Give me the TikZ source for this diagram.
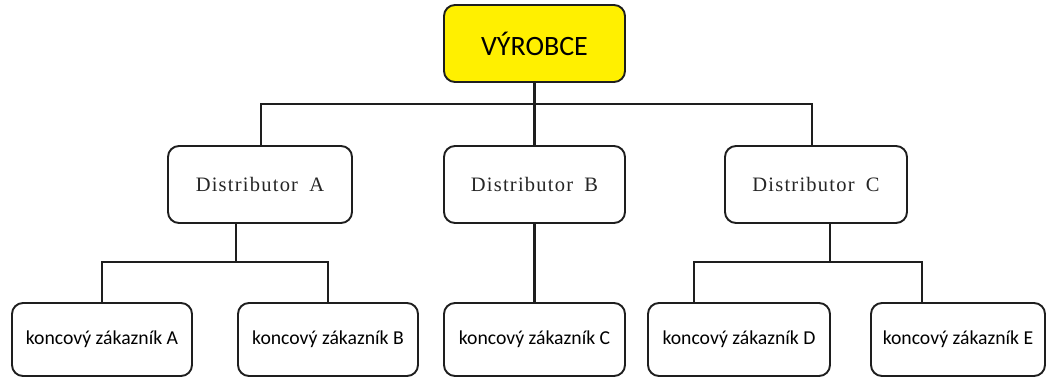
\documentclass[tikz,border=0pt]{standalone}
\usepackage{fontspec}
\setmainfont{Carlito}
\newfontfamily\distfont[LetterSpace=6]{Liberation Serif}
\definecolor{yellowbox}{RGB}{255,240,0}
\definecolor{linecol}{RGB}{30,30,30}
\begin{document}
\begin{tikzpicture}[x=1pt,y=-1pt,
  box/.style={draw=linecol, line width=1.9pt, rounded corners=11pt, fill=white, inner sep=0pt, text=black},
  topbox/.style={box, fill=yellowbox, minimum width=181pt, minimum height=77pt, font=\fontsize{28}{30}\selectfont},
  distbox/.style={box, minimum height=77pt, text=black!85, font=\distfont\fontsize{20.5}{22}\selectfont},
  custbox/.style={box, minimum height=73pt, font=\fontsize{19.7}{22}\selectfont},
  conn/.style={draw=linecol, line width=2.9pt}]
\useasboundingbox (0,0) rectangle (1046,378);
% nodes
\node[topbox] (vyr) at (534.5,43.5) {VÝROBCE};
\node[distbox, minimum width=184pt] (dA) at (260,184.5) {Distributor\hspace{5pt} A};
\node[distbox, minimum width=181pt] (dB) at (534.5,184.5) {Distributor\hspace{5pt} B};
\node[distbox, minimum width=182pt] (dC) at (816,184.5) {Distributor\hspace{5pt} C};
\node[custbox, minimum width=180pt] (kA) at (102,339.5) {koncový zákazník A};
\node[custbox, minimum width=180pt] (kB) at (328,339.5) {koncový zákazník B};
\node[custbox, minimum width=181pt] (kC) at (534.5,339.5) {koncový zákazník C};
\node[custbox, minimum width=182pt] (kD) at (739,339.5) {koncový zákazník D};
\node[custbox, minimum width=174pt] (kE) at (958,339.5) {koncový zákazník E};
% junctions
\coordinate (j1) at (534.5,104);
\coordinate (jA) at (236,262);
\coordinate (jC) at (830,262);
% connectors top level
\draw[conn] (vyr.south) -- (dB.north);
\draw[conn] (261,0 |- dA.north) -- (261,0 |- j1) -- (812,0 |- j1) -- (812,0 |- dC.north);
% distributor A
\draw[conn] (236,0 |- dA.south) -- (jA);
\draw[conn] (kA.north) -- (kA.north |- jA) -- (kB.north |- jA) -- (kB.north);
% distributor B
\draw[conn] (dB.south) -- (kC.north);
% distributor C
\draw[conn] (830,0 |- dC.south) -- (jC);
\draw[conn] (694,0 |- kD.north) -- (694,0 |- jC) -- (922,0 |- jC) -- (922,0 |- kE.north);
\end{tikzpicture}
\end{document}
